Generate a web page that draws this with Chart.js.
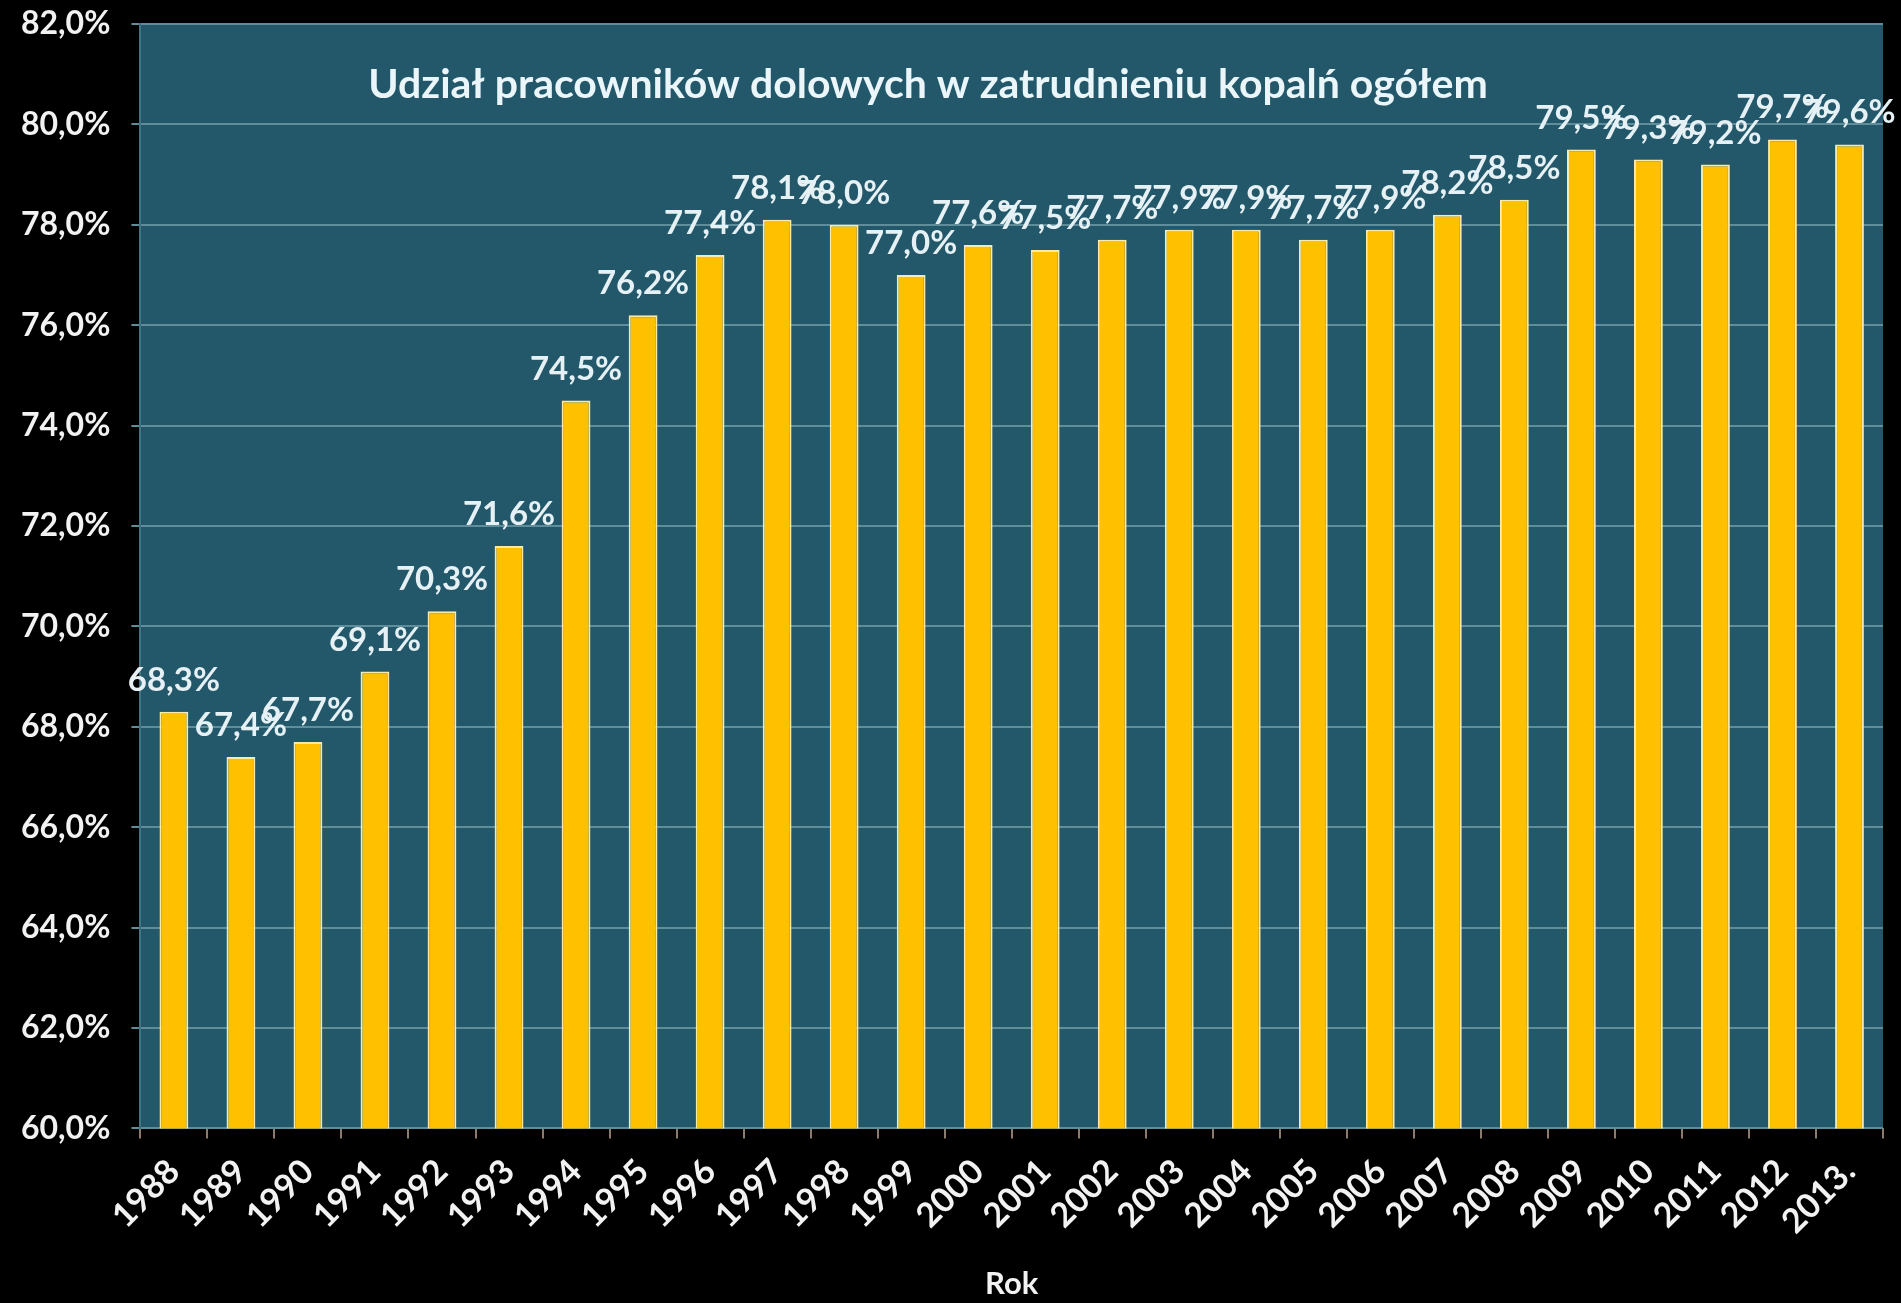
<!DOCTYPE html>
<html>
<head>
<meta charset="utf-8">
<script src="https://cdn.jsdelivr.net/npm/chart.js@4.4.1/dist/chart.umd.min.js"></script>
<style>
  html, body { margin: 0; padding: 0; background: #000; }
  #wrap { width: 1901px; height: 1303px; position: relative; }
</style>
</head>
<body>
<div id="wrap"><canvas id="miningChart"></canvas></div>
<script>
// dane: udział pracowników dołowych (%)
const years = ['1988','1989','1990','1991','1992','1993','1994','1995','1996','1997',
  '1998','1999','2000','2001','2002','2003','2004','2005','2006','2007',
  '2008','2009','2010','2011','2012','2013.'];
const shares = [68.3, 67.4, 67.7, 69.1, 70.3, 71.6, 74.5, 76.2, 77.4, 78.1,
  78.0, 77.0, 77.6, 77.5, 77.7, 77.9, 77.9, 77.7, 77.9, 78.2,
  78.5, 79.5, 79.3, 79.2, 79.7, 79.6];
const yMin = 60, yMax = 82, yStep = 2;
const chartTitle = 'Udział pracowników dolowych w zatrudnieniu kopalń ogółem';
const xTitle = 'Rok';

const pct = v => v.toFixed(1).replace('.', ',') + '%';
const FONT = 'Lato';

// tło obszaru wykresu
const plotBg = {
  id: 'plotBg',
  beforeDraw(chart) {
    const { ctx, chartArea: a } = chart;
    ctx.save();
    ctx.fillStyle = '#23586a';
    ctx.fillRect(a.left, a.top, a.right - a.left, a.bottom - a.top);
    ctx.restore();
  }
};

// etykiety wartości + tytuł wewnątrz wykresu
const labelsAndTitle = {
  id: 'labelsAndTitle',
  afterDatasetsDraw(chart) {
    const { ctx, chartArea: a } = chart;
    const meta = chart.getDatasetMeta(0);
    ctx.save();
    ctx.font = 'bold 33px ' + FONT;
    ctx.fillStyle = '#e6f1f5';
    ctx.textAlign = 'center';
    ctx.textBaseline = 'alphabetic';
    meta.data.forEach((bar, i) => {
      ctx.fillText(pct(shares[i]), bar.x, bar.y - 21);
    });
    ctx.font = 'bold 41px ' + FONT;
    ctx.fillStyle = '#eaf6fa';
    ctx.fillText(chartTitle, a.left + (a.right - a.left) * 0.452, a.top + 74);
    ctx.restore();
  }
};

const ctx = document.getElementById('miningChart').getContext('2d');
new Chart(ctx, {
  type: 'bar',
  data: {
    labels: years,
    datasets: [{
      data: shares,
      backgroundColor: '#ffc000',
      borderColor: '#ffe9a8',
      borderWidth: { left: 2, right: 2, top: 2, bottom: 0 },
      barPercentage: 0.43,
      categoryPercentage: 1.0
    }]
  },
  options: {
    responsive: true,
    maintainAspectRatio: false,
    devicePixelRatio: 1,
    animation: false,
    layout: { padding: { left: 0, right: 18, top: 24, bottom: 0 } },
    plugins: {
      legend: { display: false },
      tooltip: { enabled: false }
    },
    scales: {
      x: {
        grid: { drawOnChartArea: false, drawTicks: true, tickLength: 10, color: '#8a7c6c', lineWidth: 2 },
        border: { display: false },
        ticks: {
          color: '#f2f2f2',
          font: { family: FONT, size: 34, weight: 'bold' },
          maxRotation: 45, minRotation: 45,
          padding: 13
        },
        title: {
          display: true,
          text: xTitle,
          color: '#f2f2f2',
          font: { family: FONT, size: 31, weight: 'bold' },
          padding: { top: 11, bottom: 0 }
        }
      },
      y: {
        min: yMin, max: yMax,
        grid: { color: '#5f8d99', lineWidth: 2, tickLength: 9 },
        border: { display: true, color: '#3f7482', width: 2 },
        ticks: {
          stepSize: yStep,
          color: '#f2f2f2',
          font: { family: FONT, size: 32, weight: 'bold' },
          padding: 21,
          callback: v => pct(v)
        },
        afterFit: s => { s.paddingTop = 0; }
      }
    }
  },
  plugins: [plotBg, labelsAndTitle]
});
</script>
</body>
</html>
